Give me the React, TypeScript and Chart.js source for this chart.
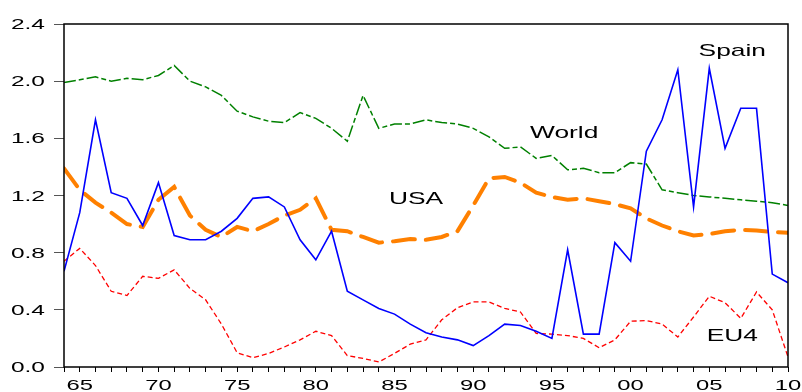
import React, { useEffect, useRef } from "react";
import { Chart, registerables } from "chart.js";

Chart.register(...registerables);

const YEARS = [
  1964, 1965, 1966, 1967, 1968, 1969, 1970, 1971, 1972, 1973,
  1974, 1975, 1976, 1977, 1978, 1979, 1980, 1981, 1982, 1983,
  1984, 1985, 1986, 1987, 1988, 1989, 1990, 1991, 1992, 1993,
  1994, 1995, 1996, 1997, 1998, 1999, 2000, 2001, 2002, 2003,
  2004, 2005, 2006, 2007, 2008, 2009, 2010,
];

const SPAIN = [
  0.67, 1.08, 1.73, 1.22, 1.18, 0.99, 1.29, 0.92, 0.89, 0.89,
  0.95, 1.04, 1.18, 1.19, 1.12, 0.89, 0.75, 0.95, 0.53, 0.47,
  0.41, 0.37, 0.30, 0.24, 0.21, 0.19, 0.15, 0.22, 0.30, 0.29,
  0.25, 0.20, 0.82, 0.23, 0.23, 0.87, 0.74, 1.51, 1.73, 2.08,
  1.12, 2.09, 1.53, 1.81, 1.81, 0.65, 0.59,
];

const WORLD = [
  1.99, 2.01, 2.03, 2.00, 2.02, 2.01, 2.04, 2.11, 2.00, 1.96,
  1.90, 1.79, 1.75, 1.72, 1.71, 1.78, 1.74, 1.67, 1.58, 1.90,
  1.67, 1.70, 1.70, 1.73, 1.71, 1.70, 1.67, 1.61, 1.53, 1.54,
  1.46, 1.48, 1.38, 1.39, 1.36, 1.36, 1.43, 1.42, 1.24, 1.22,
  1.20, 1.19, 1.18, 1.17, 1.16, 1.15, 1.13,
];

const USA = [
  1.39, 1.24, 1.15, 1.08, 1.00, 0.98, 1.17, 1.26, 1.06, 0.96,
  0.91, 0.98, 0.95, 1.00, 1.06, 1.10, 1.18, 0.96, 0.95, 0.91,
  0.87, 0.88, 0.895, 0.89, 0.91, 0.95, 1.13, 1.32, 1.33, 1.29,
  1.22, 1.19, 1.17, 1.18, 1.16, 1.14, 1.11, 1.04, 0.99, 0.95,
  0.92, 0.93, 0.95, 0.96, 0.955, 0.945, 0.94,
];

const EU4 = [
  0.74, 0.83, 0.71, 0.53, 0.50, 0.635, 0.62, 0.68, 0.55, 0.47,
  0.30, 0.10, 0.065, 0.095, 0.14, 0.19, 0.25, 0.22, 0.08, 0.06,
  0.035, 0.095, 0.16, 0.19, 0.33, 0.415, 0.455, 0.455, 0.41, 0.385,
  0.235, 0.23, 0.22, 0.20, 0.135, 0.19, 0.32, 0.325, 0.30, 0.21,
  0.35, 0.495, 0.45, 0.34, 0.525, 0.40, 0.07,
];

const Y_TICKS = [0.0, 0.4, 0.8, 1.2, 1.6, 2.0, 2.4];
const Y_LABELS = ["0.0", "0.4", "0.8", "1.2", "1.6", "2.0", "2.4"];
const X_LABEL_YEARS = [1965, 1970, 1975, 1980, 1985, 1990, 1995, 2000, 2005, 2010];
const X_LABELS = ["65", "70", "75", "80", "85", "90", "95", "00", "05", "10"];

const ANNOTATION_TEXT = ["Spain", "World", "USA", "EU4"];
const ANNOTATION_X = [2006.46, 1995.78, 1986.37, 2006.46];
const ANNOTATION_Y = [2.176, 1.604, 1.139, 0.182];

const FONT = '"Liberation Sans", Arial, sans-serif';

function drawStretched(ctx: CanvasRenderingContext2D, text: string, x: number, y: number, sx: number, align: CanvasTextAlign) {
  ctx.save();
  ctx.translate(x, y);
  ctx.scale(sx, 1);
  ctx.textAlign = align;
  ctx.textBaseline = "alphabetic";
  ctx.fillText(text, 0, 0);
  ctx.restore();
}

const framePlugin = {
  id: "frameAndText",
  afterDraw(chart: any) {
    const { ctx, chartArea: a, scales } = chart;
    ctx.save();
    ctx.strokeStyle = "#000";
    ctx.lineWidth = 1.5;
    ctx.strokeRect(a.left, a.top, a.right - a.left, a.bottom - a.top);
    ctx.fillStyle = "#000";
    ctx.font = `14px ${FONT}`;
    Y_TICKS.forEach((v, i) => {
      const y = scales.y.getPixelForValue(v);
      drawStretched(ctx, Y_LABELS[i], a.left - 19, y + 5, 1.75, "right");
    });
    X_LABEL_YEARS.forEach((yr, i) => {
      const x = scales.x.getPixelForValue(yr);
      drawStretched(ctx, X_LABELS[i], x, a.bottom + 23, 1.7, "center");
    });
    ctx.font = `17px ${FONT}`;
    ANNOTATION_TEXT.forEach((t, i) => {
      const x = scales.x.getPixelForValue(ANNOTATION_X[i]);
      const y = scales.y.getPixelForValue(ANNOTATION_Y[i]);
      drawStretched(ctx, t, x, y, 1.55, "center");
    });
    ctx.restore();
  },
};

function toPoints(values: number[]) {
  return values.map((v, i) => ({ x: YEARS[i], y: v }));
}

export default function App() {
  const canvasRef = useRef<HTMLCanvasElement | null>(null);

  useEffect(() => {
    const canvas = canvasRef.current;
    if (!canvas) return;
    const chart = new Chart(canvas, {
      type: "line",
      data: {
        datasets: [
          {
            label: "Spain",
            data: toPoints(SPAIN),
            borderColor: "#0000FF",
            borderWidth: 1.6,
            pointRadius: 0,
            tension: 0,
          },
          {
            label: "World",
            data: toPoints(WORLD),
            borderColor: "#008000",
            borderWidth: 1.5,
            borderDash: [12, 3, 5, 3],
            pointRadius: 0,
            tension: 0,
          },
          {
            label: "USA",
            data: toPoints(USA),
            borderColor: "#FF8000",
            borderWidth: 4,
            borderDash: [22, 11],
            borderCapStyle: "round",
            pointRadius: 0,
            tension: 0,
          },
          {
            label: "EU4",
            data: toPoints(EU4),
            borderColor: "#FF0000",
            borderWidth: 1.3,
            borderDash: [5, 3],
            pointRadius: 0,
            tension: 0,
          },
        ],
      },
      options: {
        responsive: false,
        animation: false,
        layout: { padding: { left: 54, right: 14, top: 24, bottom: 20 } },
        plugins: {
          legend: { display: false },
          tooltip: { enabled: false },
        },
        scales: {
          x: {
            type: "linear",
            min: 1964,
            max: 2010,
            ticks: { display: false, stepSize: 1, autoSkip: false },
            grid: {
              drawOnChartArea: false,
              drawTicks: true,
              tickLength: 5,
              color: "#000",
              lineWidth: 1,
            },
            border: { display: false },
          },
          y: {
            type: "linear",
            min: 0,
            max: 2.4,
            ticks: { display: false, stepSize: 0.4 },
            grid: {
              drawOnChartArea: false,
              drawTicks: true,
              tickLength: 10,
              color: "#555",
              lineWidth: 1,
            },
            border: { display: false },
          },
        },
      },
      plugins: [framePlugin],
    });
    return () => chart.destroy();
  }, []);

  return (
    <div style={{ position: "absolute", left: 0, top: 0, width: 802, height: 392, background: "#fff" }}>
      <canvas ref={canvasRef} width={802} height={392} style={{ display: "block" }} />
    </div>
  );
}
